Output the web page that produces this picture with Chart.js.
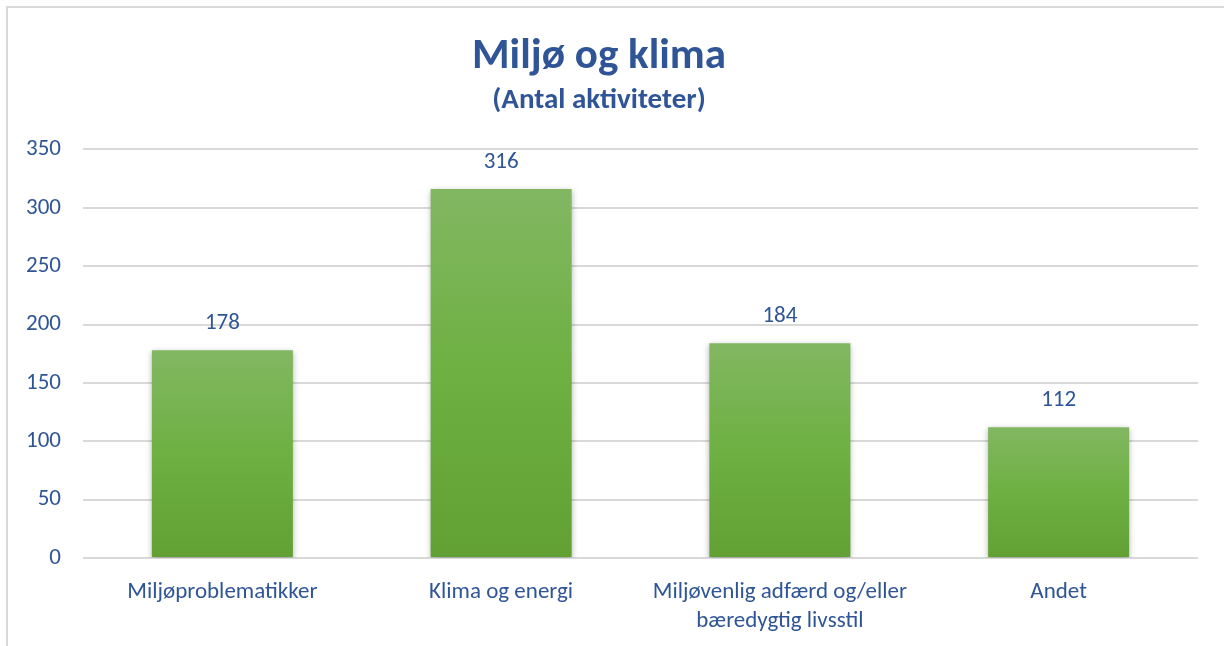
<!DOCTYPE html>
<html>
<head>
<meta charset="utf-8">
<script src="https://cdn.jsdelivr.net/npm/chart.js@4"></script>
<style>
  html, body { margin: 0; padding: 0; background: #fff; }
  #wrap { position: relative; width: 1224px; height: 646px; }
  #ramme { position: absolute; left: 6px; top: 6px; width: 1300px; height: 700px; border-left: 2px solid #d9d9d9; border-top: 2px solid #d9d9d9; box-sizing: border-box; }
  canvas { position: absolute; left: 0; top: 0; }
</style>
</head>
<body>
<div id="wrap">
  <div id="ramme"></div>
  <canvas id="grafico" width="1224" height="646"></canvas>
</div>
<script>
const kategorier = [["Miljøproblematikker"], ["Klima og energi"], ["Miljøvenlig adfærd og/eller", "bæredygtig livsstil"], ["Andet"]];
const antal = [178, 316, 184, 112];
const yTicks = [0, 50, 100, 150, 200, 250, 300, 350];

const blaa = "#2F5597";
const skrift = "Carlito, Calibri, Lato, sans-serif";

// skriver tallet over hver søjle
const vaerdiLabels = {
    id: "vaerdiLabels",
    afterDatasetsDraw(chart) {
        const ctx = chart.ctx;
        const meta = chart.getDatasetMeta(0);
        ctx.save();
        ctx.font = "23px " + skrift;
        ctx.fillStyle = blaa;
        ctx.textAlign = "center";
        ctx.textBaseline = "middle";
        meta.data.forEach((bar, i) => {
            ctx.fillText(antal[i], bar.x, bar.y - 27);
        });
        ctx.restore();
    }
};

const skygge = {
    id: "skygge",
    beforeDatasetDraw(chart) {
        const ctx = chart.ctx;
        ctx.save();
        ctx.shadowColor = "rgba(0,0,0,0.3)";
        ctx.shadowBlur = 6;
        ctx.shadowOffsetY = 2;
    },
    afterDatasetDraw(chart) {
        chart.ctx.restore();
    }
};

new Chart("grafico", {
    type: "bar",
    data: {
        labels: kategorier,
        datasets: [{
            data: antal,
            backgroundColor: (c) => {
                const y = c.chart.scales.y;
                if (!c.chart.chartArea || !y || c.raw === undefined) return "#6fae45";
                const top = y.getPixelForValue(c.raw);
                const bund = y.getPixelForValue(0);
                const g = c.chart.ctx.createLinearGradient(0, top, 0, bund);
                g.addColorStop(0, "#82b762");
                g.addColorStop(0.5, "#6eb042");
                g.addColorStop(1, "#62a033");
                return g;
            },
            barPercentage: 0.506,
            categoryPercentage: 1
        }]
    },
    plugins: [skygge, vaerdiLabels],
    options: {
        responsive: false,
        animation: false,
        layout: { padding: { left: 0, right: 26, top: 16, bottom: 12 } },
        plugins: {
            legend: { display: false },
            tooltip: { enabled: false },
            title: {
                display: true,
                text: "Miljø og klima",
                color: blaa,
                font: { family: skrift, size: 43, weight: "bold" },
                padding: { top: 15, bottom: 1 }
            },
            subtitle: {
                display: true,
                text: "(Antal aktiviteter)",
                color: blaa,
                font: { family: skrift, size: 29, weight: "bold" },
                padding: { top: 0, bottom: 31 }
            }
        },
        scales: {
            x: {
                afterFit: (s) => { s.height = 76; },
                grid: { display: false },
                border: { display: false },
                ticks: {
                    color: blaa,
                    font: { family: skrift, size: 23, lineHeight: 1.26 },
                    maxRotation: 0,
                    padding: 12
                }
            },
            y: {
                min: 0,
                max: 350,
                afterFit: (s) => { s.width = 83; },
                afterBuildTicks: (s) => { s.ticks = yTicks.map(v => ({ value: v })); },
                grid: { color: "#d9d9d9", lineWidth: 2, drawTicks: false },
                border: { display: false },
                ticks: {
                    color: blaa,
                    font: { family: skrift, size: 23 },
                    padding: 22
                }
            }
        }
    }
});
</script>
</body>
</html>
